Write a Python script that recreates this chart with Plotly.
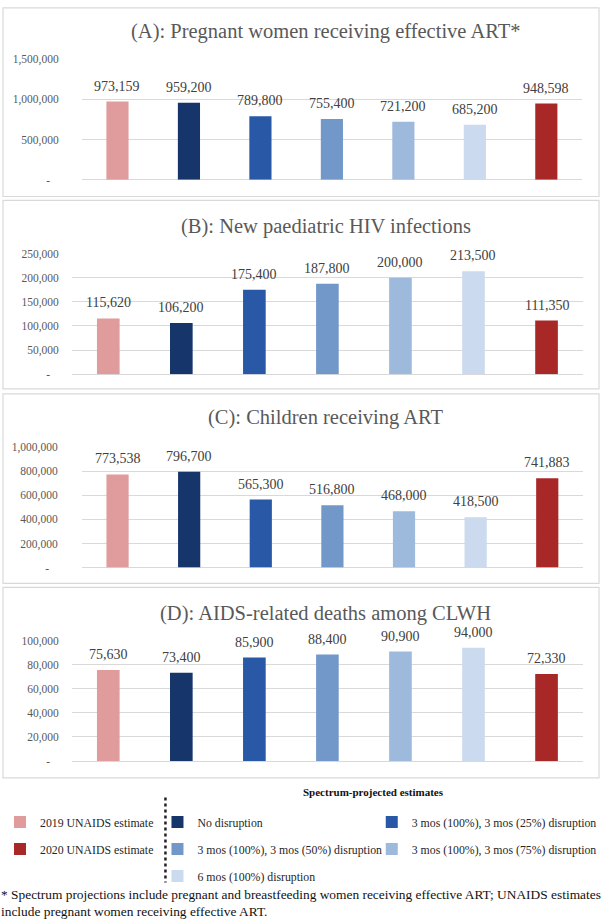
import plotly.graph_objects as go

W, H = 602, 923

# ---------------- data ----------------
categories = [
    "2019 UNAIDS estimate",
    "No disruption",
    "3 mos (100%), 3 mos (25%) disruption",
    "3 mos (100%), 3 mos (50%) disruption",
    "3 mos (100%), 3 mos (75%) disruption",
    "6 mos (100%) disruption",
    "2020 UNAIDS estimate",
]
panel_titles = [
    "(A): Pregnant women receiving effective ART*",
    "(B): New paediatric HIV infections",
    "(C): Children receiving ART",
    "(D): AIDS-related deaths among CLWH",
]
values_a = [973159, 959200, 789800, 755400, 721200, 685200, 948598]
values_b = [115620, 106200, 175400, 187800, 200000, 213500, 111350]
values_c = [773538, 796700, 565300, 516800, 468000, 418500, 741883]
values_d = [75630, 73400, 85900, 88400, 90900, 94000, 72330]
ticks_a = [0, 500000, 1000000, 1500000]
ticks_b = [0, 50000, 100000, 150000, 200000, 250000]
ticks_c = [0, 200000, 400000, 600000, 800000, 1000000]
ticks_d = [0, 20000, 40000, 60000, 80000, 100000]
legend_header = "Spectrum-projected estimates"
footnote = ("* Spectrum projections include pregnant and breastfeeding women receiving effective ART; UNAIDS estimates"
            "<br>include pregnant women receiving effective ART.")

# ---------------- styles ----------------
colors = ["#E09C9C", "#15356B", "#2858A6", "#7298C9", "#9DB9DC", "#CBDAEE", "#A82828"]
legend_of = ["legend", "legend2", "legend3", "legend2", "legend3", "legend2", "legend"]
FONT = "Liberation Serif, Times New Roman, serif"
GRID = "#D9D9D9"
GRAY = "#595959"


def px(x):
    return x / W


def py(y):
    return 1 - y / H


# per panel: values, ticks, plot left/right px, plot top/bottom px, box top/bottom px, title y px, tick standoff
panels = [
    (values_a, ticks_a, 81, 583, 54, 176, 2, 193, 26, 22),
    (values_b, ticks_b, 71, 584, 251, 373, 197, 388, 223, 12),
    (values_c, ticks_c, 81, 584, 447, 569, 393, 585, 417, 23),
    (values_d, ticks_d, 71, 584, 643, 765, 589, 782, 615, 12),
]

fig = go.Figure()
shapes = []
annotations = []

for i, (vals, ticks, x0, x1, yt, yb, bt, bb, ty, standoff) in enumerate(panels):
    n = "" if i == 0 else str(i + 1)
    xa, ya = "x" + n, "y" + n
    for j, cat in enumerate(categories):
        fig.add_trace(go.Bar(
            x=[cat], y=[vals[j]], xaxis=xa, yaxis=ya,
            name=cat, legendgroup=cat, showlegend=(i == 0), legend=legend_of[j],
            marker=dict(color=colors[j], line=dict(width=0)),
            width=0.31,
            hovertemplate="%{x}: %{y:,}<extra></extra>",
        ))
        # value label above each bar, placed in data coordinates
        annotations.append(dict(
            x=cat, y=vals[j], xref=xa, yref=ya, text=f"{vals[j]:,}",
            xanchor="center", yanchor="bottom", yshift=6, showarrow=False,
            font=dict(family=FONT, size=14, color="#404040"),
        ))
    ticktext = ["-\u00a0\u00a0\u00a0" if t == 0 else f"{t:,}" for t in ticks]
    fig.layout["xaxis" + n] = dict(
        domain=[px(x0), px(x1)], anchor=ya, categoryorder="array", categoryarray=categories,
        showticklabels=False, showgrid=False, zeroline=False, showline=False, ticks="",
        fixedrange=True,
    )
    fig.layout["yaxis" + n] = dict(
        domain=[py(yb), py(yt)], anchor=xa, range=[0, ticks[-1]],
        tickvals=ticks, ticktext=ticktext, showgrid=True, gridcolor=GRID, gridwidth=1,
        zeroline=True, zerolinecolor=GRID, zerolinewidth=1, showline=False, ticks="",
        ticklabelstandoff=standoff,
        tickfont=dict(family=FONT, size=11.5, color=GRAY), fixedrange=True,
    )
    shapes.append(dict(type="rect", xref="paper", yref="paper",
                       x0=px(2), x1=px(600), y0=py(bb), y1=py(bt),
                       line=dict(color=GRID, width=1.2), fillcolor="rgba(0,0,0,0)", layer="below"))
    annotations.append(dict(text=panel_titles[i], xref="paper", yref="paper",
                            x=px(326), y=py(ty), xanchor="center", yanchor="middle",
                            showarrow=False, font=dict(family=FONT, size=20.5, color=GRAY)))

# dotted separator in the legend area
shapes.append(dict(type="line", xref="paper", yref="paper", x0=px(165), x1=px(165),
                   y0=py(802), y1=py(888), line=dict(color="#222222", width=2.5, dash="dot")))

annotations.append(dict(text="<b>" + legend_header + "</b>", xref="paper", yref="paper",
                        x=px(374), y=py(796), xanchor="center", yanchor="middle", showarrow=False,
                        font=dict(family=FONT, size=11, color="#111111")))
annotations.append(dict(text=footnote, xref="paper", yref="paper", x=px(-2), y=py(909),
                        xanchor="left", yanchor="middle", align="left", showarrow=False,
                        font=dict(family=FONT, size=13.4, color="#111111")))

leg_common = dict(orientation="v", yanchor="top", xanchor="left", bgcolor="rgba(0,0,0,0)",
                  borderwidth=0, font=dict(family=FONT, size=11.8, color="#262626"),
                  tracegroupgap=8, itemclick=False, itemdoubleclick=False)

fig.update_layout(
    width=W, height=H, margin=dict(l=0, r=0, t=0, b=0),
    paper_bgcolor="white", plot_bgcolor="white",
    barmode="overlay", showlegend=True,
    shapes=shapes, annotations=annotations,
    legend=dict(x=px(-1), y=py(812), **leg_common),
    legend2=dict(x=px(157), y=py(812), **leg_common),
    legend3=dict(x=px(372), y=py(812), **leg_common),
    font=dict(family=FONT),
)

fig.write_html("out.html", config={"displayModeBar": False},
               post_script="document.body.style.margin='0';document.body.style.overflow='hidden';")
